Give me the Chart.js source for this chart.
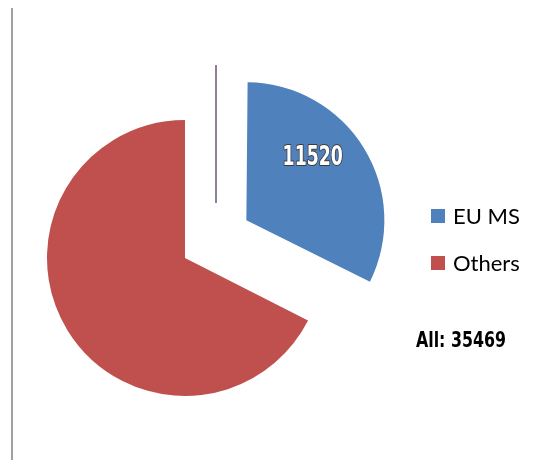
<!DOCTYPE html>
<html>
<head>
<meta charset="utf-8">
<script src="https://cdn.jsdelivr.net/npm/chart.js@4/dist/chart.umd.min.js"></script>
<style>
  html, body { margin: 0; padding: 0; background: #fff; }
  #wrap { position: relative; width: 541px; height: 469px; }
  #chart { position: absolute; left: 0; top: 0; }
  .vline { position: absolute; width: 2px; }
</style>
</head>
<body>
<div id="wrap">
  <div class="vline" style="left:11px; top:8px; height:452px; background:#a0a0a0;"></div>
  <div class="vline" style="left:215px; top:65px; height:138px; background:#8e8096;"></div>
  <canvas id="chart" width="541" height="469"></canvas>
</div>
<script>
const labels = ['EU MS', 'Others'];
const values = [11520, 23949];
const colors = ['#4F81BD', '#C0504D'];
const totalLabel = 'All: 35469';

// draws text squeezed horizontally (stand-in for a narrow font)
function narrowText(ctx, text, x, y, sx, stroke) {
  ctx.save();
  ctx.translate(x, y);
  ctx.scale(sx, 1);
  if (stroke) ctx.strokeText(text, 0, 0);
  ctx.fillText(text, 0, 0);
  ctx.restore();
}

// chart.js grows a pulled-out slice smaller than 180deg; keep it the same size as the rest
const keepRadius = {
  id: 'keepRadius',
  beforeDatasetsDraw(chart) {
    chart.getDatasetMeta(0).data.forEach(arc => {
      const off = (arc.options.offset || 0) / 4;
      const circ = arc.endAngle - arc.startAngle;
      const fix = 1 - Math.sin(Math.min(Math.PI, circ));
      arc._origR = arc.outerRadius;
      arc.outerRadius = arc.outerRadius - off * fix;
    });
  },
  afterDatasetsDraw(chart) {
    chart.getDatasetMeta(0).data.forEach(arc => { arc.outerRadius = arc._origR; });
  }
};

// label inside the blue slice + legend + total text
const extras = {
  id: 'extras',
  afterDatasetsDraw(chart) {
    const ctx = chart.ctx;
    const arc = chart.getDatasetMeta(0).data[0];
    const a = arc.startAngle + 0.4 * (arc.endAngle - arc.startAngle);
    const r = arc.outerRadius * 0.66;
    const off = arc.options.offset / 4;
    const mid = (arc.startAngle + arc.endAngle) / 2;
    const cx = arc.x + Math.cos(mid) * off + Math.cos(a) * r;
    const cy = arc.y + Math.sin(mid) * off + Math.sin(a) * r;
    ctx.save();
    ctx.font = 'bold 26px "Liberation Sans Narrow", "DejaVu Sans Condensed", sans-serif';
    ctx.textAlign = 'center';
    ctx.textBaseline = 'middle';
    ctx.lineWidth = 2;
    ctx.strokeStyle = '#3a3a3a';
    ctx.lineJoin = 'round';
    ctx.fillStyle = '#fff';
    narrowText(ctx, String(values[0]), cx, cy, 0.74, true);

    // legend
    ctx.textAlign = 'left';
    ctx.textBaseline = 'alphabetic';
    ctx.font = '22px Lato, "Liberation Sans", sans-serif';
    labels.forEach((lab, i) => {
      const y = 209 + i * 47;
      ctx.fillStyle = colors[i];
      ctx.fillRect(431, y, 14, 14);
      ctx.fillStyle = '#000';
      ctx.fillText(lab, 453, y + 15);
    });

    ctx.font = 'bold 22px "Liberation Sans Narrow", "DejaVu Sans Condensed", sans-serif';
    ctx.fillStyle = '#000';
    narrowText(ctx, totalLabel, 416, 347, 0.8, false);
    ctx.restore();
  }
};

new Chart(document.getElementById('chart'), {
  type: 'pie',
  data: {
    labels,
    datasets: [{
      data: values,
      backgroundColor: colors,
      borderWidth: 0,
      offset: [288, 0],
      hoverOffset: 0,
      radius: 138
    }]
  },
  options: {
    responsive: false,
    animation: false,
    layout: { padding: { left: 0, top: 100, right: 171, bottom: 53 } },
    plugins: { legend: { display: false }, tooltip: { enabled: false } },
    events: []
  },
  plugins: [keepRadius, extras]
});
</script>
</body>
</html>
